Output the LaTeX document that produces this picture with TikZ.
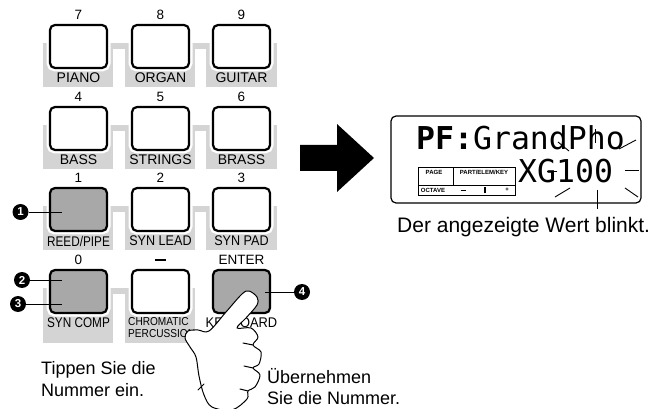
\documentclass[tikz,border=0pt]{standalone}
\usepackage{fontspec}
\usepackage{graphicx}
\setmainfont{Liberation Sans}
\newfontfamily\lcdfont{DejaVu Sans Mono}
\usetikzlibrary{calc}

\definecolor{bandgray}{RGB}{212,212,212}
\definecolor{pressgray}{RGB}{168,168,168}

\newcommand\squeeze[2]{\scalebox{#1}[1]{#2}}

\begin{document}
\begin{tikzpicture}[x=1pt,y=-1pt,
  keybtn/.style={draw=black, fill=white, line width=2.2pt, rounded corners=5pt,
    minimum width=57pt, minimum height=43pt, inner sep=0pt, outer sep=0pt,
    anchor=north west, preaction={draw=white, line width=7pt}},
  pressed/.style={keybtn, fill=pressgray},
  keynum/.style={font=\fontsize{13.5}{13.5}\selectfont, inner sep=0pt},
  keylabel/.style={font=\fontsize{14}{14}\selectfont, inner sep=0pt},
  smalllabel/.style={font=\fontsize{11.5}{12.5}\selectfont, inner sep=0pt, align=left},
  callout/.style={circle, fill=black, text=white, inner sep=0pt, minimum size=16pt,
    font=\bfseries\fontsize{11.5}{11.5}\selectfont},
  leader/.style={line width=0.7pt},
  caption/.style={font=\fontsize{18}{22}\selectfont, inner sep=0pt, align=left},
  lcd/.style={font=\lcdfont\fontsize{31.5}{31.5}\selectfont, inner sep=0pt},
  panel/.style={font=\bfseries\fontsize{6}{6}\selectfont, inner sep=0pt},
  ray/.style={line width=0.9pt},
]
\useasboundingbox (0,0) rectangle (654,409);
\clip (0,0) rectangle (654,409);

% ---------- grey bands behind the key rows ----------
\foreach \T/\B in {25/87, 107/169, 188/250} {
  \fill[bandgray] (43,\T+18) rectangle (113,\B);
  \fill[bandgray] (113,\T+18) rectangle (125,\T+24);
  \fill[bandgray] (125,\T+18) rectangle (195,\B);
  \fill[bandgray] (195,\T+18) rectangle (206,\T+24);
  \fill[bandgray] (206,\T+18) rectangle (277,\B);
}
\fill[bandgray] (43,288) rectangle (113,343);
\fill[bandgray] (113,288) rectangle (125,294);
\fill[bandgray] (125,288) rectangle (195,343);

% ---------- keys ----------
\node[keybtn] (k7) at (50,25) {};
\node[keybtn] (k8) at (132,25) {};
\node[keybtn] (k9) at (213,25) {};
\node[keybtn] (k4) at (50,107) {};
\node[keybtn] (k5) at (132,107) {};
\node[keybtn] (k6) at (213,107) {};
\node[pressed] (k1) at (50,188) {};
\node[keybtn] (k2) at (132,188) {};
\node[keybtn] (k3) at (213,188) {};
\node[pressed] (k0) at (50,270) {};
\node[keybtn] (kminus) at (132,270) {};
\node[pressed] (kenter) at (213,270) {};

% ---------- key numbers ----------
\node[keynum] (n7) at (78.5,15) {7};
\node[keynum] (n8) at (160.5,15) {8};
\node[keynum] (n9) at (241.5,15) {9};
\node[keynum] (n4) at (78.5,97) {4};
\node[keynum] (n5) at (160.5,97) {5};
\node[keynum] (n6) at (241.5,97) {6};
\node[keynum] (n1) at (78.5,178) {1};
\node[keynum] (n2) at (160.5,178) {2};
\node[keynum] (n3) at (241.5,178) {3};
\node[keynum] (n0) at (78.5,260) {0};
\node[inner sep=0pt] (nminus) at (160.5,260) {\rule{11pt}{2.6pt}};
\node[keynum] (nenter) at (241.5,260) {ENTER};

% ---------- voice labels ----------
\node[keylabel] (lpiano) at (78.5,78) {PIANO};
\node[keylabel] (lorgan) at (160.5,78) {ORGAN};
\node[keylabel] (lguitar) at (241.5,78) {GUITAR};
\node[keylabel] (lbass) at (78.5,160) {BASS};
\node[keylabel] (lstrings) at (160.5,160) {STRINGS};
\node[keylabel] (lbrass) at (241.5,160) {BRASS};
\node[keylabel] (lreed) at (78.5,241) {\squeeze{0.84}{REED/PIPE}};
\node[keylabel] (lsynlead) at (160.5,241) {\squeeze{0.9}{SYN LEAD}};
\node[keylabel] (lsynpad) at (241.5,241) {\squeeze{0.9}{SYN PAD}};
\node[keylabel] (lsyncomp) at (78.5,323) {\squeeze{0.84}{SYN COMP}};
\node[smalllabel, anchor=north west] (lchrom) at (128,317) {\squeeze{0.88}{CHROMATIC}\\\squeeze{0.88}{PERCUSSION}};
\node[keylabel] (lkeyboard) at (241.5,323) {\squeeze{0.92}{KEYBOARD}};

% ---------- step callouts ----------
\coordinate (p1) at (62,212);
\coordinate (p2) at (62,280);
\coordinate (p3) at (62,304);
\coordinate (p4) at (265,292);
\node[callout] (c1) at (20.5,212) {1};
\node[callout] (c2) at (22,280) {2};
\node[callout] (c3) at (18,304) {3};
\node[callout] (c4) at (302,292) {4};
\draw[leader] (c1) -- (p1);
\draw[leader] (c2) -- (p2);
\draw[leader] (c3) -- (p3);
\draw[leader] (p4) -- (c4);

% ---------- pointing hand ----------
\draw[line width=1pt, fill=white, line join=round]
  plot[smooth cycle, tension=0.55] coordinates {
    (209,331) (226,312) (242,294) (249,291) (257,297) (257,305)
    (246,318) (237,328) (251,328) (258,337) (253,345)
    (261,352) (259,364) (253,368) (260,375) (255,387) (248,391)
    (247,399) (232,410) (212,407) (204,395) (199,376) (196,357)
    (190,347) (185,338) (188,331) (198,330)};
\draw[line width=1pt, line cap=round] (253,345) -- (243,343);
\draw[line width=1pt, line cap=round] (253,368) -- (244,366);
\draw[line width=1pt, line cap=round] (248,391) -- (240,389);
\draw[line width=1pt, line cap=round] (198,390) -- (204,384);

% ---------- step captions ----------
\node[caption, anchor=base west] (tipcap) at (41,396) {Tippen Sie die\\Nummer ein.};
\node[caption, anchor=base west, font=\fontsize{18}{21}\selectfont] (okcap) at (267,404) {Übernehmen\\Sie die Nummer.};

% ---------- arrow ----------
\fill[black] (300,145) -- (337,145) -- (337,124) -- (374,158) -- (337,192) -- (337,171) -- (300,171) -- cycle;

% ---------- display ----------
\draw[line width=1.2pt, rounded corners=5pt] (391,116) rectangle (641,203);
\node[lcd, anchor=base west] (lcdtop) at (416,150) {{\bfseries PF:}GrandPho};
\node[lcd, anchor=base west] (lcdval) at (518,183) {XG100};

\draw[line width=0.8pt] (418,167) rectangle (515,195);
\draw[line width=0.8pt] (453,167) -- (453,185);
\draw[line width=0.8pt] (418,185) -- (515,185);
\node[panel] (ppage) at (434,172) {PAGE};
\node[panel] (ppart) at (484,172) {PART/ELEM/KEY};
\node[panel] (poct) at (433,190.5) {OCTAVE};
\node[panel] (pminus) at (463,190.5) {\rule{5pt}{1.2pt}};
\node[panel] (pbar) at (485,190.5) {\rule{2.2pt}{6pt}};
\node[panel] (pplus) at (507,190) {+};

\draw[ray] (558,142) -- (569,151);
\draw[ray] (595,129) -- (595,143);
\draw[ray] (619,149) -- (636,140);
\draw[ray] (625,170) -- (639,170);
\draw[ray] (547,171) -- (557,171);
\draw[ray] (555,197) -- (570,188);
\draw[ray] (597,190) -- (597,209);
\draw[ray] (625,188) -- (638,197);

\node[caption, anchor=base west, font=\fontsize{21}{24}\selectfont] (blinkcap) at (397,233) {Der angezeigte Wert blinkt.};
\end{tikzpicture}
\end{document}
